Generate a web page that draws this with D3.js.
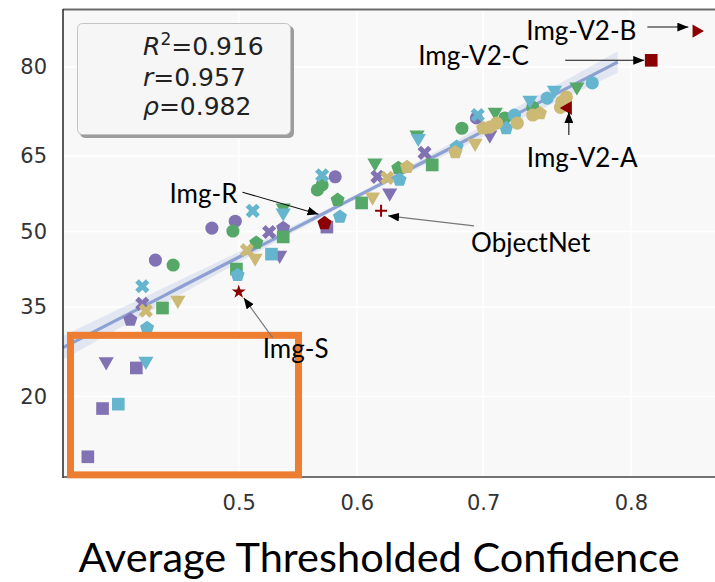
<!DOCTYPE html>
<html>
<head>
<meta charset="utf-8">
<script src="https://cdn.jsdelivr.net/npm/d3@7"></script>
<style>
  html, body { margin: 0; padding: 0; background: #fff; }
  svg { display: block; }
</style>
</head>
<body>
<svg id="chart" width="715" height="582"></svg>
<script>
// Accuracy vs. average thresholded confidence, both axes on a probit scale.

const xTicks = [0.5, 0.6, 0.7, 0.8];
const yTicks = [20, 35, 50, 65, 80];
const xDomain = [0.353, 0.859];
const yDomain = [10.5, 87.1];

// [confidence, accuracy %, marker]
const purplePts = [
  [0.388, 25.3, "tri_down"], [0.413, 24.3, "square"], [0.385, 18.3, "square"],
  [0.373, 12.5, "square"], [0.408, 32.6, "pentagon"], [0.418, 35.6, "x"],
  [0.429, 44.2, "circle"], [0.477, 50.7, "circle"], [0.497, 52.1, "circle"],
  [0.526, 49.9, "x"], [0.538, 50.7, "pentagon"], [0.535, 45.2, "tri_down"],
  [0.575, 50.9, "square"], [0.582, 61.0, "circle"], [0.617, 61.0, "x"],
  [0.627, 57.8, "tri_down"], [0.655, 65.6, "x"], [0.695, 71.9, "circle"],
  [0.705, 68.9, "tri_down"]
];
const greenPts = [
  [0.435, 34.8, "square"], [0.444, 43.2, "circle"], [0.495, 50.1, "circle"],
  [0.498, 42.4, "square"], [0.515, 47.7, "pentagon"], [0.538, 48.9, "square"],
  [0.538, 54.8, "tri_down"], [0.584, 56.4, "pentagon"], [0.604, 55.8, "square"],
  [0.567, 58.4, "circle"], [0.571, 59.4, "circle"], [0.615, 63.7, "tri_down"],
  [0.634, 62.7, "pentagon"], [0.661, 63.3, "square"], [0.649, 68.9, "tri_down"],
  [0.684, 70.1, "circle"], [0.709, 72.9, "tri_down"], [0.716, 71.9, "circle"],
  [0.736, 73.7, "circle"], [0.766, 77.0, "tri_down"]
];
const cyanPts = [
  [0.421, 25.4, "tri_down"], [0.398, 18.9, "square"], [0.422, 31.1, "pentagon"],
  [0.418, 39.0, "x"], [0.512, 54.2, "x"], [0.499, 41.2, "pentagon"],
  [0.528, 45.4, "square"], [0.538, 53.8, "tri_down"], [0.586, 53.0, "pentagon"],
  [0.571, 61.3, "x"], [0.635, 60.4, "pentagon"], [0.650, 68.3, "tri_down"],
  [0.680, 66.7, "pentagon"], [0.696, 72.4, "x"], [0.717, 70.1, "pentagon"],
  [0.723, 72.4, "circle"], [0.734, 74.9, "tri_down"], [0.746, 75.2, "circle"],
  [0.751, 76.5, "tri_down"], [0.776, 77.6, "circle"]
];
const tanPts = [
  [0.421, 34.3, "x"], [0.448, 36.3, "tri_down"], [0.507, 46.2, "x"],
  [0.514, 44.6, "tri_down"], [0.625, 60.8, "x"], [0.613, 57.0, "tri_down"],
  [0.641, 62.9, "pentagon"], [0.679, 65.7, "pentagon"], [0.694, 67.4, "tri_down"],
  [0.700, 70.1, "pentagon"], [0.705, 70.3, "circle"], [0.710, 71.0, "circle"],
  [0.725, 71.0, "circle"], [0.736, 72.4, "circle"], [0.741, 72.7, "pentagon"],
  [0.755, 73.7, "circle"], [0.756, 74.6, "circle"], [0.759, 75.4, "circle"]
];

// Named test sets: [label, confidence, accuracy %, marker]
const namedSets = [
  ["Img-S", 0.500, 37.9, "star"],
  ["Img-R", 0.573, 51.7, "pentagon"],
  ["ObjectNet", 0.620, 54.2, "plus"],
  ["Img-V2-A", 0.760, 73.6, "tri_left"],
  ["Img-V2-C", 0.812, 80.9, "square"],
  ["Img-V2-B", 0.837, 84.7, "tri_right"]
];

// Linear fit in probit space: probit(acc) = slope * probit(conf) + intercept
const fitSlope = 1.225;
const fitIntercept = -0.131;
const fitRange = [0.353, 0.792];

const statLines = [
  { sym: "R", sup: "2", val: "=0.916" },
  { sym: "r", sup: "", val: "=0.957" },
  { sym: "ρ", sup: "", val: "=0.982" }
];

// Highlighted low-accuracy region
const focusRegion = { conf: [0.359, 0.551], acc: [10.7, 29.8] };

// ---------- probit helpers ----------
function probit(p) {
  const a = [-3.969683028665376e+01, 2.209460984245205e+02, -2.759285104469687e+02,
             1.383577518672690e+02, -3.066479806614716e+01, 2.506628277459239e+00];
  const b = [-5.447609879822406e+01, 1.615858368580409e+02, -1.556989798598866e+02,
             6.680131188771972e+01, -1.328068155288572e+01];
  const c = [-7.784894002430293e-03, -3.223964580411365e-01, -2.400758277161838e+00,
             -2.549671348283685e+00, 4.374664141464968e+00, 2.938163982698783e+00];
  const d = [7.784695709041462e-03, 3.224671290700398e-01, 2.445134137142996e+00,
             3.754408661907416e+00];
  const plow = 0.02425, phigh = 1 - plow;
  let q, r;
  if (p < plow) {
    q = Math.sqrt(-2 * Math.log(p));
    return (((((c[0]*q+c[1])*q+c[2])*q+c[3])*q+c[4])*q+c[5]) / ((((d[0]*q+d[1])*q+d[2])*q+d[3])*q+1);
  }
  if (p <= phigh) {
    q = p - 0.5; r = q * q;
    return (((((a[0]*r+a[1])*r+a[2])*r+a[3])*r+a[4])*r+a[5])*q / (((((b[0]*r+b[1])*r+b[2])*r+b[3])*r+b[4])*r+1);
  }
  q = Math.sqrt(-2 * Math.log(1 - p));
  return -(((((c[0]*q+c[1])*q+c[2])*q+c[3])*q+c[4])*q+c[5]) / ((((d[0]*q+d[1])*q+d[2])*q+d[3])*q+1);
}

// A scale that maps values through probit() and then linearly to pixels.
function scaleProbit(domain, range, unit) {
  const lin = d3.scaleLinear().domain(domain.map(v => probit(v / unit))).range(range);
  const s = v => lin(probit(v / unit));
  s.domain = () => domain.slice();
  s.range = () => lin.range();
  s.copy = () => scaleProbit(domain, range, unit);
  s.linear = lin;
  return s;
}

// ---------- layout ----------
const W = 715, H = 582;
const plot = { left: 63, right: 740, top: 10, bottom: 477 };

const x = scaleProbit(xDomain, [plot.left, plot.right], 1);
const y = scaleProbit(yDomain, [plot.bottom, plot.top], 100);

const colors = {
  purple: "#8172B3", green: "#55A868", cyan: "#64B5CD", tan: "#CCB974",
  named: "#8B0000", fit: "#8DA0D2", focus: "#ED7D31"
};

const svg = d3.select("#chart");
svg.append("rect").attr("width", W).attr("height", H).attr("fill", "#fff");

const defs = svg.append("defs");
defs.append("clipPath").attr("id", "plotClip")
  .append("rect")
  .attr("x", plot.left).attr("y", plot.top)
  .attr("width", plot.right - plot.left).attr("height", plot.bottom - plot.top);

defs.append("marker")
  .attr("id", "head")
  .attr("viewBox", "0 0 10 8")
  .attr("refX", 10).attr("refY", 4)
  .attr("markerWidth", 11).attr("markerHeight", 9)
  .attr("markerUnits", "userSpaceOnUse")
  .attr("orient", "auto")
  .append("path").attr("d", "M0,0 L10,4 L0,8 Z").attr("fill", "#000");

// plot background and grid
svg.append("rect")
  .attr("x", plot.left).attr("y", plot.top)
  .attr("width", plot.right - plot.left).attr("height", plot.bottom - plot.top)
  .attr("fill", "#f8f8f8");

const grid = svg.append("g").attr("clip-path", "url(#plotClip)");
grid.selectAll("line.gx").data(xTicks).join("line")
  .attr("x1", d => x(d)).attr("x2", d => x(d))
  .attr("y1", plot.top).attr("y2", plot.bottom)
  .attr("stroke", "#ffffff").attr("stroke-width", 1.4);
grid.selectAll("line.gy").data(yTicks).join("line")
  .attr("y1", d => y(d)).attr("y2", d => y(d))
  .attr("x1", plot.left).attr("x2", plot.right)
  .attr("stroke", "#ffffff").attr("stroke-width", 1.4);

// axes (labels only)
const xAxis = d3.axisBottom(x).tickValues(xTicks).tickFormat(d3.format(".1f"))
  .tickSize(0).tickPadding(18);
const yAxis = d3.axisLeft(y).tickValues(yTicks).tickFormat(d3.format("d"))
  .tickSize(0).tickPadding(16);

const gx = svg.append("g").attr("transform", `translate(0,${plot.bottom})`).call(xAxis);
const gy = svg.append("g").attr("transform", `translate(${plot.left},0)`).call(yAxis);
[gx, gy].forEach(g => {
  g.select(".domain").remove();
  g.selectAll("text")
    .attr("font-family", "DejaVu Sans, sans-serif")
    .attr("font-size", 21)
    .attr("fill", "#333");
});

// fit line and confidence band (probit space)
const body = svg.append("g").attr("clip-path", "url(#plotClip)");
const fz0 = probit(fitRange[0]), fz1 = probit(fitRange[1]);
const fitPts = d3.range(0, 61).map(i => fz0 + (fz1 - fz0) * i / 60);
const fitY = z => fitSlope * z + fitIntercept;
const zMean = 0.25;
const bandHalf = z => Math.sqrt(0.012 * 0.012 + 0.095 * 0.095 * (z - zMean) * (z - zMean));

body.append("path")
  .datum(fitPts)
  .attr("d", d3.area()
    .x(z => x.linear(z))
    .y0(z => y.linear(fitY(z) - bandHalf(z)))
    .y1(z => y.linear(fitY(z) + bandHalf(z))))
  .attr("fill", colors.fit).attr("fill-opacity", 0.2);

body.append("path")
  .datum(fitPts)
  .attr("d", d3.line().x(z => x.linear(z)).y(z => y.linear(fitY(z))))
  .attr("fill", "none").attr("stroke", colors.fit).attr("stroke-width", 3.2);

// marker shapes
const pentagon = {
  draw(ctx, size) {
    const r = Math.sqrt(size / 2.3776);
    for (let i = 0; i < 5; i++) {
      const a = -Math.PI / 2 + i * 2 * Math.PI / 5;
      const px = r * Math.cos(a), py = r * Math.sin(a);
      if (i) ctx.lineTo(px, py); else ctx.moveTo(px, py);
    }
    ctx.closePath();
  }
};
const shapes = {
  circle:    { type: d3.symbolCircle,   size: 135, rot: 0 },
  square:    { type: d3.symbolSquare,   size: 160, rot: 0 },
  tri_down:  { type: d3.symbolTriangle, size: 100, rot: 180 },
  x:         { type: d3.symbolCross,    size: 125, rot: 45 },
  pentagon:  { type: pentagon,          size: 130, rot: 0 },
  star:      { type: d3.symbolStar,     size: 60,  rot: 0 },
  tri_right: { type: d3.symbolTriangle, size: 75,  rot: 90 },
  tri_left:  { type: d3.symbolTriangle, size: 85,  rot: -90 }
};

function drawPoints(g, pts, color) {
  pts.forEach(([c, a, m]) => {
    const px = x(c), py = y(a);
    if (m === "plus") {
      const h = 6;
      g.append("path")
        .attr("d", `M${px - h},${py}H${px + h}M${px},${py - h}V${py + h}`)
        .attr("stroke", color).attr("stroke-width", 2).attr("fill", "none");
      return;
    }
    const s = shapes[m];
    g.append("path")
      .attr("d", d3.symbol(s.type, s.size)())
      .attr("transform", `translate(${px},${py}) rotate(${s.rot})`)
      .attr("fill", color);
  });
}

const markers = svg.append("g").attr("clip-path", "url(#plotClip)");
drawPoints(markers, purplePts, colors.purple);
drawPoints(markers, greenPts, colors.green);
drawPoints(markers, cyanPts, colors.cyan);
drawPoints(markers, tanPts, colors.tan);
drawPoints(markers, namedSets.map(d => [d[1], d[2], d[3]]), colors.named);

// spines
svg.append("line").attr("x1", plot.left).attr("x2", W).attr("y1", plot.top - 0.5).attr("y2", plot.top - 0.5)
  .attr("stroke", "#6a6a6a").attr("stroke-width", 2);
svg.append("line").attr("x1", plot.left).attr("x2", plot.left).attr("y1", plot.top - 1).attr("y2", plot.bottom + 1)
  .attr("stroke", "#333").attr("stroke-width", 1.6);
svg.append("line").attr("x1", plot.left).attr("x2", W).attr("y1", plot.bottom).attr("y2", plot.bottom)
  .attr("stroke", "#444").attr("stroke-width", 1.6);

// focus rectangle
svg.append("rect")
  .attr("x", x(focusRegion.conf[0])).attr("y", y(focusRegion.acc[1]))
  .attr("width", x(focusRegion.conf[1]) - x(focusRegion.conf[0]))
  .attr("height", y(focusRegion.acc[0]) - y(focusRegion.acc[1]))
  .attr("fill", "none").attr("stroke", colors.focus).attr("stroke-width", 7);

// labels with arrows: text offset (tx, ty: left / middle), arrow start and end offsets
const labelLayout = {
  "Img-V2-B":  { tx: -170, ty: -1,  a0: [-49, -4], a1: [-8, -4], grey: false },
  "Img-V2-C":  { tx: -233, ty: -5,  a0: [-86, 0],  a1: [-7, 0],  grey: false },
  "Img-V2-A":  { tx: -41,  ty: 49,  a0: [1, 27],   a1: [1, 4],   grey: false },
  "ObjectNet": { tx: 90,   ty: 31,  a0: [93, 15],  a1: [7, 5],   grey: true },
  "Img-R":     { tx: -155, ty: -30, a0: [-82, -31], a1: [-6, -9], grey: false },
  "Img-S":     { tx: 24,   ty: 56,  a0: [34, 46],  a1: [5, 6],   grey: true }
};

const notes = svg.append("g");
namedSets.forEach(([label, c, a]) => {
  const L = labelLayout[label];
  const px = x(c), py = y(a);
  notes.append("line")
    .attr("x1", px + L.a0[0]).attr("y1", py + L.a0[1])
    .attr("x2", px + L.a1[0]).attr("y2", py + L.a1[1])
    .attr("stroke", L.grey ? "#777" : "#111").attr("stroke-width", 1.1)
    .attr("marker-end", "url(#head)");
  notes.append("text")
    .attr("x", px + L.tx).attr("y", py + L.ty)
    .attr("dominant-baseline", "central")
    .attr("font-family", "Lato, 'Open Sans', sans-serif")
    .attr("font-size", 26)
    .attr("fill", "#000")
    .text(label);
});

// statistics box
const box = svg.append("g");
box.append("rect").attr("x", 80).attr("y", 26).attr("width", 214).attr("height", 112)
  .attr("rx", 5).attr("fill", "#9c9c9c");
box.append("rect").attr("x", 77.5).attr("y", 23.5).attr("width", 213).attr("height", 111)
  .attr("rx", 5).attr("fill", "#f6f6f6").attr("stroke", "#c4c4c4").attr("stroke-width", 1);
const statBase = [55, 86, 115];
statLines.forEach((s, i) => {
  const t = box.append("text")
    .attr("x", 143).attr("y", statBase[i])
    .attr("font-family", "DejaVu Sans, sans-serif")
    .attr("font-size", 25)
    .attr("fill", "#222");
  t.append("tspan").attr("font-style", "italic").text(s.sym);
  if (s.sup) t.append("tspan").attr("font-size", 17).attr("dy", -10).text(s.sup);
  t.append("tspan").attr("dy", s.sup ? 10 : 0).text(s.val);
});

// x-axis title
svg.append("text")
  .attr("x", 379).attr("y", 572)
  .attr("text-anchor", "middle")
  .attr("font-family", "Lato, 'Open Sans', sans-serif")
  .attr("font-size", 41.5)
  .attr("fill", "#000")
  .text("Average Thresholded Confidence");
</script>
</body>
</html>
